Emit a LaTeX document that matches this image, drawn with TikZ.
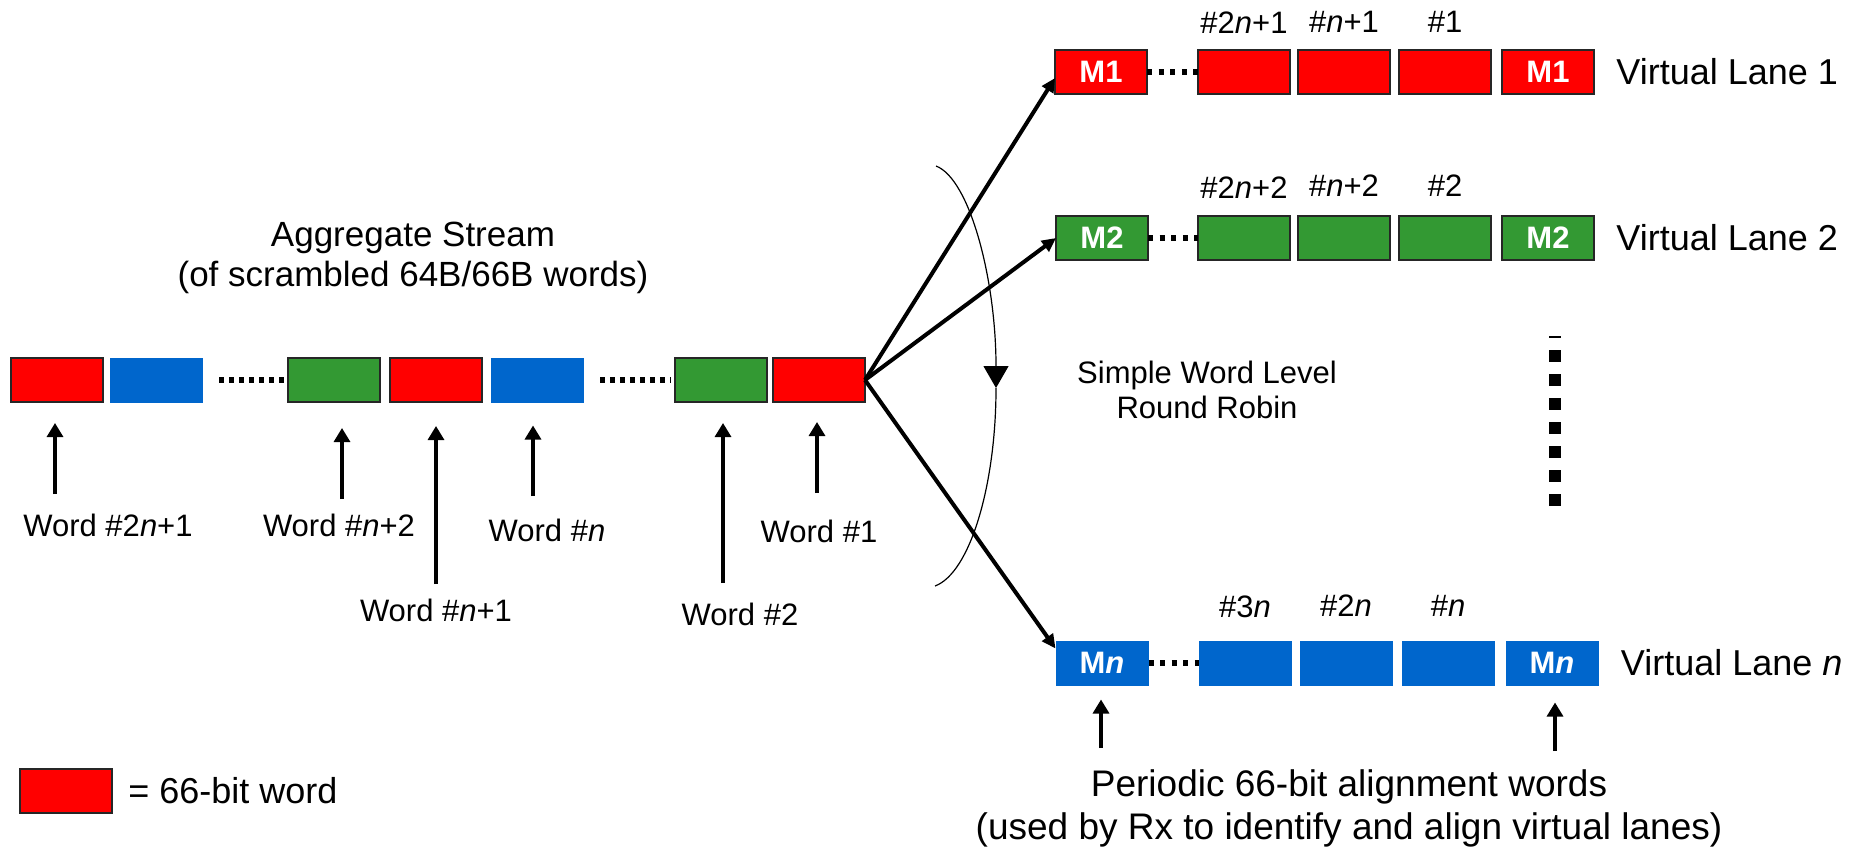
\documentclass[tikz,border=0pt]{standalone}
\usepackage{fontspec}
\setmainfont{Liberation Sans}
\usetikzlibrary{positioning, arrows.meta}
\definecolor{WordRed}{HTML}{FF0000}
\definecolor{WordGreen}{HTML}{339933}
\definecolor{WordBlue}{HTML}{0066CC}

\begin{document}
\begin{tikzpicture}[x=0.5pt, y=-0.5pt,
			wordbox/.style={rectangle, minimum width=46pt, minimum height=22pt, inner sep=0, outer sep=0},
			redw/.style={wordbox, fill=WordRed, draw=black!85, line width=1pt},
			greenw/.style={wordbox, fill=WordGreen, draw=black!85, line width=1pt},
			bluew/.style={wordbox, fill=WordBlue, minimum width=46.5pt, minimum height=22.5pt},
			mlabel/.style={text=white, font=\bfseries\fontsize{15.5}{18}\selectfont},
			lbl/.style={inner sep=0, font=\fontsize{15.5}{18}\selectfont},
			lanelbl/.style={inner sep=0, anchor=west, font=\fontsize{18}{22}\selectfont},
			streamdots/.style={line width=3pt, dash pattern=on 2.5pt off 2.5pt},
			lanedots/.style={line width=2.8pt, dash pattern=on 2.5pt off 3.3pt},
			uparrow/.style={line width=1.6pt, -{Triangle[length=7pt, width=8pt]}},
			fanarrow/.style={line width=2pt, -{Triangle[length=7pt, width=6.5pt]}}
		]
			\useasboundingbox (0,0) rectangle (1871,848);

			% aggregate stream
			\node (aggr) [align=center, inner sep=0, font=\fontsize{17.5}{20}\selectfont] at (413,258)
				{Aggregate Stream\\(of scrambled 64B/66B words)};
			\node (b1) [redw] at (57,380) {};
			\node (b2) [bluew, right=3.5pt of b1] {};
			\node (b3) [greenw, right=42.5pt of b2] {};
			\node (b4) [redw, right=5pt of b3] {};
			\node (b5) [bluew, right=4.5pt of b4] {};
			\node (b6) [greenw, right=45.5pt of b5] {};
			\node (b7) [redw, right=3pt of b6] {};
			\draw[streamdots] ([xshift=8pt]b2.east) -- ([xshift=-2pt]b3.west);
			\draw[streamdots] ([xshift=8pt]b5.east) -- ([xshift=-2pt]b6.west);

			% word numbers
			\node (n1) [lbl] at (108,525) {Word \#2\textit{n}+1};
			\node (n2) [lbl] at (339,525) {Word \#\textit{n}+2};
			\node (n3) [lbl] at (436,610) {Word \#\textit{n}+1};
			\node (n4) [lbl] at (547,530) {Word \#\textit{n}};
			\node (n5) [lbl] at (740,614) {Word \#2};
			\node (n6) [lbl] at (819,531) {Word \#1};
			\coordinate (t1) at (55,494);
			\coordinate (t2) at (342,499);
			\coordinate (t3) at (436,584);
			\coordinate (t4) at (533,496);
			\coordinate (t5) at (723,583);
			\coordinate (t6) at (817,493);
			\draw[uparrow, shorten >=10.5pt] (t1) -- (t1 |- b1.south);
			\draw[uparrow, shorten >=13pt] (t2) -- (t2 |- b3.south);
			\draw[uparrow, shorten >=12pt] (t3) -- (t3 |- b4.south);
			\draw[uparrow, shorten >=11.5pt] (t4) -- (t4 |- b5.south);
			\draw[uparrow, shorten >=10.5pt] (t5) -- (t5 |- b6.south);
			\draw[uparrow, shorten >=10pt] (t6) -- (t6 |- b7.south);

			% virtual lane 1
			\node (m1a) [redw, mlabel] at (1101,72) {M1};
			\node (w1a) [redw, right=25.5pt of m1a] {};
			\node (w1b) [redw, right=4pt of w1a] {};
			\node (w1c) [redw, right=4.5pt of w1b] {};
			\node (m1b) [redw, mlabel, right=5.5pt of w1c] {M1};
			\draw[lanedots] (m1a) -- (w1a);
			\node [lbl, above=8pt of w1a] {\#2\textit{n}+1};
			\node [lbl, above=8.5pt of w1b] {\#\textit{n}+1};
			\node [lbl, above=8.5pt of w1c] {\#1};
			\node (vl1) [lanelbl, right=11pt of m1b] {Virtual Lane 1};

			% virtual lane 2
			\node (m2a) [greenw, mlabel] at (1102,238) {M2};
			\node (w2a) [greenw, right=25pt of m2a] {};
			\node (w2b) [greenw, right=4pt of w2a] {};
			\node (w2c) [greenw, right=4.5pt of w2b] {};
			\node (m2b) [greenw, mlabel, right=5.5pt of w2c] {M2};
			\draw[lanedots] (m2a) -- (w2a);
			\node [lbl, above=8.5pt of w2a] {\#2\textit{n}+2};
			\node [lbl, above=9.5pt of w2b] {\#\textit{n}+2};
			\node [lbl, above=9.5pt of w2c] {\#2};
			\node (vl2) [lanelbl, right=11pt of m2b] {Virtual Lane 2};

			% virtual lane n
			\node (mna) [bluew, mlabel] at (1102,663) {M\textit{n}};
			\node (wna) [bluew, right=25pt of mna] {};
			\node (wnb) [bluew, right=4pt of wna] {};
			\node (wnc) [bluew, right=4.5pt of wnb] {};
			\node (mnb) [bluew, mlabel, right=5.5pt of wnc] {M\textit{n}};
			\draw[lanedots] (mna) -- (wna);
			\node [lbl, above=11pt of wna] {\#3\textit{n}};
			\node [lbl, above=12pt of wnb] {\#2\textit{n}};
			\node [lbl, above=12pt of wnc] {\#\textit{n}};
			\node (vln) [lanelbl, right=11pt of mnb] {Virtual Lane \textit{n}};

			% more lanes
			\draw[line width=6pt, dash pattern=on 6pt off 6pt, dash phase=5pt] (1555,336) -- (1555,507);

			% round robin
			\draw[fanarrow] (b7.east) -- ([yshift=-3pt]m1a.west);
			\draw[fanarrow] (b7.east) -- (m2a.west);
			\draw[fanarrow] (b7.east) -- ([yshift=-4pt]mna.north west);
			\coordinate (arctop) at (936,166);
			\coordinate (arcmid) at (996,388);
			\coordinate (arcbot) at (935,586);
			\draw[line width=0.6pt, -{Triangle[length=11pt, width=12.5pt]}]
				(arctop) .. controls (970,179) and (996,280) .. (arcmid);
			\draw[line width=0.6pt] (arcmid) .. controls (996,485) and (970,573) .. (arcbot);
			\node (rr) [align=center, inner sep=0, font=\fontsize{15.5}{17.5}\selectfont] at (1207,390)
				{Simple Word Level\\Round Robin};

			% alignment words
			\node (align) [align=center, inner sep=0, font=\fontsize{18.5}{21.5}\selectfont] at (1349,808)
				{Periodic 66-bit alignment words\\(used by Rx to identify and align virtual lanes)};
			\coordinate (p1) at (1101,748);
			\coordinate (p2) at (1555,751);
			\draw[uparrow, shorten >=7pt] (p1) -- (p1 |- mna.south);
			\draw[uparrow, shorten >=8.5pt] (p2) -- (p2 |- mnb.south);

			% legend
			\node (key) [redw] at (66,791) {};
			\node (keytxt) [lanelbl, right=8pt of key] {= 66-bit word};
		\end{tikzpicture}
\end{document}
